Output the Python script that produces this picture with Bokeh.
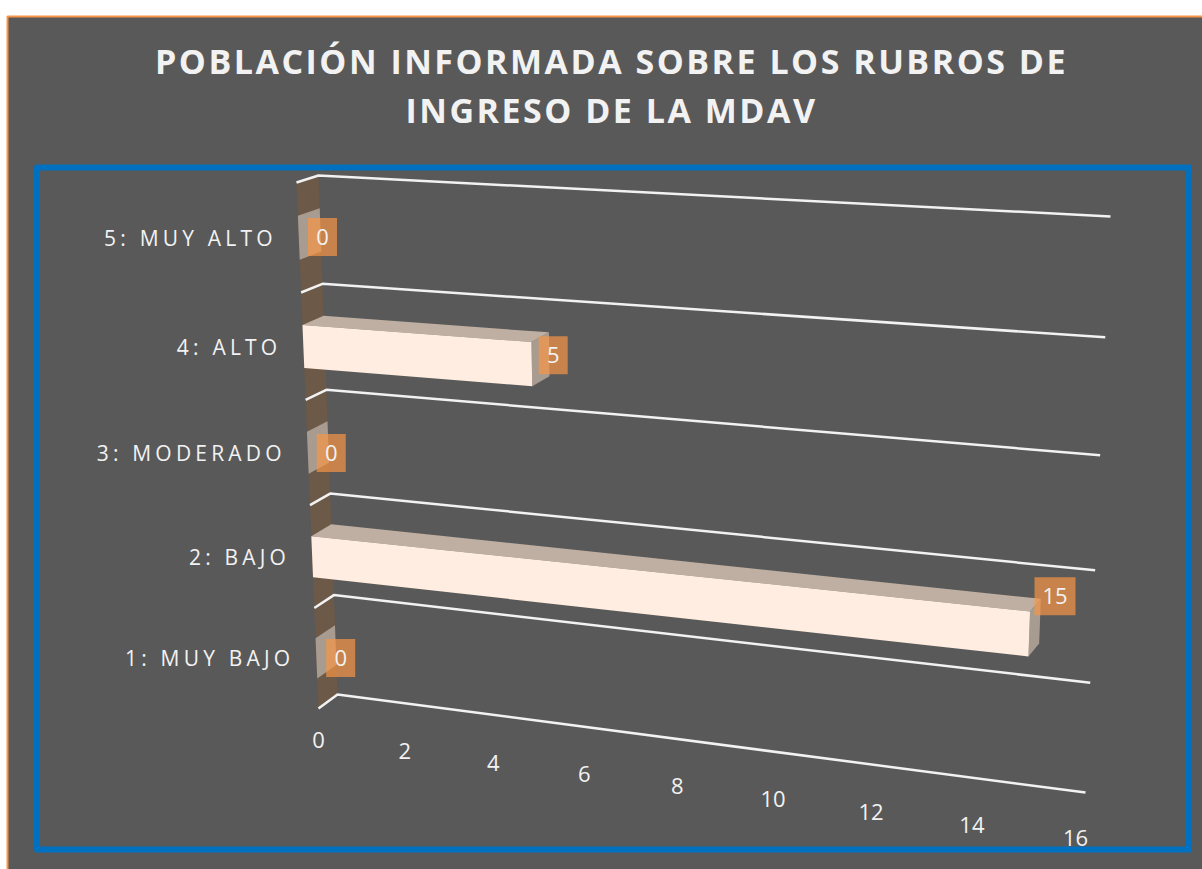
import numpy as np
from bokeh.core.properties import value
from bokeh.embed import file_html
from bokeh.layouts import column
from bokeh.models import Range1d
from bokeh.plotting import figure
from bokeh.resources import INLINE

# ---- data ----
title_lines = ["POBLACIÓN INFORMADA SOBRE LOS RUBROS DE", "INGRESO DE LA MDAV"]
categories = ["1: MUY BAJO", "2: BAJO", "3: MODERADO", "4: ALTO", "5: MUY ALTO"]
values = [0, 15, 0, 5, 0]
ticks = [0, 2, 4, 6, 8, 10, 12, 14, 16]
tick_labels = ["0", "2", "4", "6", "8", "10", "12", "14", "16"]

W, H = 1202, 869
VMAX, KMAX = 16, 5
FONT = "Open Sans"
TITLE_SPACING = 2.5
CAT_SPACING = 4.2


def homography(corners):
    src = [(0, 0), (VMAX, 0), (VMAX, KMAX), (0, KMAX)]
    A, b = [], []
    for (u, v), (x, y) in zip(src, corners):
        A.append([u, v, 1, 0, 0, 0, -u * x, -v * x]); b.append(x)
        A.append([0, 0, 0, u, v, 1, -u * y, -v * y]); b.append(y)
    h = np.linalg.solve(np.array(A, float), np.array(b, float))
    return np.append(h, 1).reshape(3, 3)


H_FRONT = homography([(318, 708), (1075, 806), (1099, 225), (296, 182)])
H_BACK = homography([(337, 694), (1085, 792), (1110, 216), (318, 175)])


def project(v, k, z=0.0):
    """Value v, category position k, depth z (0 front, 1 back) -> page position."""
    out = []
    for H_ in (H_FRONT, H_BACK):
        q = H_ @ np.array([v, k, 1.0])
        out.append(q[:2] / q[2])
    p_ = out[0] * (1 - z) + out[1] * z
    return float(p_[0]), float(p_[1])


def poly(points):
    pts = [project(*q) for q in points]
    return [a for a, _ in pts], [b for _, b in pts]


def layer(**kw):
    return figure(width=W, height=H, output_backend="svg", toolbar_location=None,
                  x_range=Range1d(0, W), y_range=Range1d(H, 0),
                  x_axis_type=None, y_axis_type=None, min_border=0,
                  outline_line_color=None, **kw)


p = layer(background_fill_color="#ffffff", border_fill_color="#ffffff")

# chart area
p.quad(left=[7], right=[W + 5], top=[16], bottom=[H + 5], fill_color="#595959",
       line_color="#F79646", line_width=2)

# side wall at value 0
wx, wy = poly([(0, 0, 0), (0, 0, 1), (0, KMAX, 1), (0, KMAX, 0)])
p.patch(wx, wy, fill_color="#6C5948", line_color=None)

# gridlines
gx, gy = [], []
for k in range(KMAX + 1):
    a, b = poly([(0, k, 0), (0, k, 1), (VMAX, k, 1)])
    gx.append(a); gy.append(b)
p.multi_line(gx, gy, line_color="#F2F2F2", line_width=2.5)

# bars
B0, B1 = 0.3, 0.7
for i, val in enumerate(values):
    lo, hi = i + B0, i + B1
    a, b = poly([(val, lo, 0), (val, lo, 1), (val, hi, 1), (val, hi, 0)])
    p.patch(a, b, fill_color="#A89C91", line_color=None)
    if val > 0:
        a, b = poly([(0, hi, 0), (0, hi, 1), (val, hi, 1), (val, hi, 0)])
        p.patch(a, b, fill_color="#BEAFA2", line_color=None)
        a, b = poly([(0, lo, 0), (val, lo, 0), (val, hi, 0), (0, hi, 0)])
        p.patch(a, b, fill_color="#FEEDE0", line_color=None)

# data labels
label_nudge = {0: (5, 13), 1: (15, -25), 2: (3, 11), 3: (4, 1), 4: (2, 7)}
for i, val in enumerate(values):
    cx, cy = project(val, i + 0.5, 1)
    cx += label_nudge[i][0]; cy += label_nudge[i][1]
    txt = str(val)
    p.rect([cx], [cy], width=17 + 12 * len(txt), height=38, fill_color="#F79646",
           fill_alpha=0.7, line_color=None)
    p.text([cx], [cy], text=[txt], text_font=value(FONT), text_font_size="22px",
           text_color="#F2F2F2", text_align="center", text_baseline="middle")

# value axis labels
tx = [project(t, 0, 0)[0] for t in ticks]
ty = [project(t, 0, 0)[1] + 31.5 for t in ticks]
p.text(tx, ty, text=tick_labels, text_font=value(FONT), text_font_size="22px",
       text_color="#F2F2F2", text_align="center", text_baseline="middle")

# blue frame sits over the axis labels
p.quad(left=[36.5], right=[1188.5], top=[167], bottom=[849], fill_alpha=0,
       line_color="#0070C0", line_width=6, line_join="round")

# title layer (Bokeh aligns without the letter spacing, so shift by it)
t_layer = layer(background_fill_alpha=0, border_fill_alpha=0)
t_layer.styles = {"position": "absolute", "left": "0px", "top": "0px",
                  "letter-spacing": f"{TITLE_SPACING}px"}
t_layer.text([611 - TITLE_SPACING * len(s) / 2 for s in title_lines], [60, 109],
             text=title_lines, text_font=value(FONT),
             text_font_style="bold", text_font_size="34px", text_color="#F2F2F2",
             text_align="center", text_baseline="middle")

# category label layer
c_layer = layer(background_fill_alpha=0, border_fill_alpha=0)
c_layer.styles = {"position": "absolute", "left": "0px", "top": "0px",
                  "letter-spacing": f"{CAT_SPACING}px"}
cx_, cy_ = [], []
for i, s in enumerate(categories):
    a, b = project(0, i + 0.5, 0)
    cx_.append(a - 22 - CAT_SPACING * len(s)); cy_.append(b)
c_layer.text(cx_, cy_, text=categories, text_font=value(FONT), text_font_size="21px",
             text_color="#F2F2F2", text_align="right", text_baseline="middle")

root = column(p, t_layer, c_layer, spacing=0)
root.margin = 0
open("out.html", "w").write(file_html(root, INLINE))
